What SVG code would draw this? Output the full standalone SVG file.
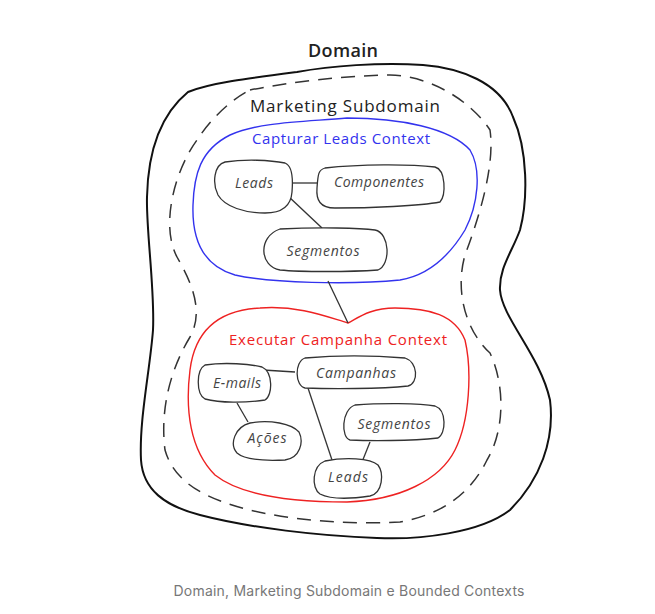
<svg xmlns="http://www.w3.org/2000/svg" width="655" height="614" viewBox="0 0 655 614">
<style>
.node{fill:#fff;stroke:#333;stroke-width:1.3}
.lbl{font-family:"Open Sans","Noto Sans",sans-serif;font-style:italic;font-size:14px;fill:#444;text-anchor:middle}
.conn line{stroke:#333;stroke-width:1.3}
.title{font-family:"Open Sans","Noto Sans",sans-serif;text-anchor:middle}
</style>
<rect width="655" height="614" fill="#fff"/>
<g id="domain">
<path d="M 188,92 C 210,83 250,78 297,72 C 330,66 380,62 423,65 C 460,68 500,82 513,117 C 528,150 528,200 520,230 C 512,252 499,268 500,290 C 502,318 540,355 550,400 C 555,440 540,480 510,510 C 480,533 420,540 377,538 C 320,536 250,528 200,515 C 165,506 143,490 141,460 C 139,420 150,370 153,330 C 155,290 146,230 147,197 C 148,150 160,115 188,92 Z" fill="none" stroke="#111" stroke-width="2"/>
<text x="343" y="57" class="title" font-size="18" font-weight="600" fill="#222" textLength="70">Domain</text>
</g>
<g id="subdomain">
<path d="M 250,90 C 290,82 340,76 390,75 C 430,76 470,100 490,130 C 495,165 480,215 465,255 C 455,290 465,330 490,353 C 505,385 505,430 487,460 C 470,495 440,515 400,522 C 350,525 290,520 250,510 C 210,500 175,485 165,450 C 160,410 170,370 190,337 C 205,310 190,280 177,257 C 160,225 175,170 197,140 C 210,120 230,100 250,90 Z" fill="none" stroke="#333" stroke-width="1.5" stroke-dasharray="14,9"/>
<text x="345" y="112" class="title" font-size="17" fill="#222" textLength="190">Marketing Subdomain</text>
</g>
<g id="capturar-context">
<path d="M 230,135 C 260,122 300,122 347,118 C 400,118 450,128 470,150 C 482,170 478,205 465,230 C 450,255 430,275 400,280 C 350,285 270,283 235,275 C 200,265 192,235 193,205 C 194,175 200,150 230,135 Z" fill="none" stroke="#3333ee" stroke-width="1.4"/>
<text x="341" y="144" class="title" font-size="15" fill="#3333ee" textLength="178">Capturar Leads Context</text>
</g>
<g id="executar-context">
<path d="M 348,323 C 330,318 300,305 260,308 C 220,310 195,330 190,370 C 185,410 190,450 215,475 C 240,495 290,502 347,502 C 400,500 440,480 455,450 C 470,420 472,370 465,340 C 455,315 430,308 395,308 C 370,308 358,318 348,323 Z" fill="none" stroke="#ee2222" stroke-width="1.4"/>
<text x="338" y="345" class="title" font-size="15" fill="#ee2222" textLength="218">Executar Campanha Context</text>
</g>
<g id="connectors" class="conn">
<line x1="328" y1="281" x2="348" y2="323"/>
<line x1="292" y1="183" x2="317" y2="183"/>
<line x1="288" y1="196" x2="322" y2="228"/>
<line x1="263" y1="370" x2="295" y2="372"/>
<line x1="237" y1="403" x2="248" y2="422"/>
<line x1="308" y1="388" x2="332" y2="460"/>
<line x1="370" y1="442" x2="362" y2="462"/>
</g>
<g id="cap-leads">
<path class="node" d="M 225,162 C 245,159 270,160 285,163 C 293,166 293,180 292,192 C 291,206 282,213 265,213 C 245,213 225,207 218,195 C 212,183 214,165 225,162 Z"/>
<text x="254" y="188" class="lbl" textLength="38">Leads</text>
</g>
<g id="cap-componentes">
<path class="node" d="M 325,168 C 360,164 410,164 435,167 C 446,170 446,195 440,202 C 420,206 370,208 335,208 C 320,208 316,200 317,188 C 318,175 318,170 325,168 Z"/>
<text x="379" y="187" class="lbl" textLength="90">Componentes</text>
</g>
<g id="cap-segmentos">
<path class="node" d="M 280,229 C 320,227 360,228 375,230 C 390,233 391,265 378,270 C 350,272 300,272 280,270 C 260,267 257,237 280,229 Z"/>
<text x="323" y="256" class="lbl" textLength="73">Segmentos</text>
</g>
<g id="exe-emails">
<path class="node" d="M 205,365 C 225,362 250,364 262,367 C 273,372 273,395 265,400 C 245,403 220,403 205,399 C 196,394 196,370 205,365 Z"/>
<text x="237" y="388" class="lbl" textLength="48">E-mails</text>
</g>
<g id="exe-campanhas">
<path class="node" d="M 305,358 C 340,355 380,356 405,358 C 418,362 419,383 408,386 C 380,389 330,389 305,388 C 295,386 294,362 305,358 Z"/>
<text x="356" y="378" class="lbl" textLength="80">Campanhas</text>
</g>
<g id="exe-acoes">
<path class="node" d="M 250,423 C 270,419 292,424 299,432 C 304,442 300,458 285,460 C 265,461 245,460 237,453 C 229,444 235,427 250,423 Z"/>
<text x="267" y="443" class="lbl" textLength="39">Ações</text>
</g>
<g id="exe-segmentos">
<path class="node" d="M 355,405 C 380,403 420,403 435,406 C 447,410 446,434 438,438 C 410,441 370,441 350,440 C 341,438 341,410 355,405 Z"/>
<text x="394" y="429" class="lbl" textLength="73">Segmentos</text>
</g>
<g id="exe-leads">
<path class="node" d="M 325,461 C 345,457 370,458 378,465 C 384,473 383,493 370,496 C 350,499 330,499 320,494 C 311,488 312,466 325,461 Z"/>
<text x="348" y="482" class="lbl" textLength="40">Leads</text>
</g>
<text x="349" y="596" font-family="Inter,'Liberation Sans',sans-serif" font-size="14" fill="#777" text-anchor="middle" textLength="351">Domain, Marketing Subdomain e Bounded Contexts</text>
</svg>
